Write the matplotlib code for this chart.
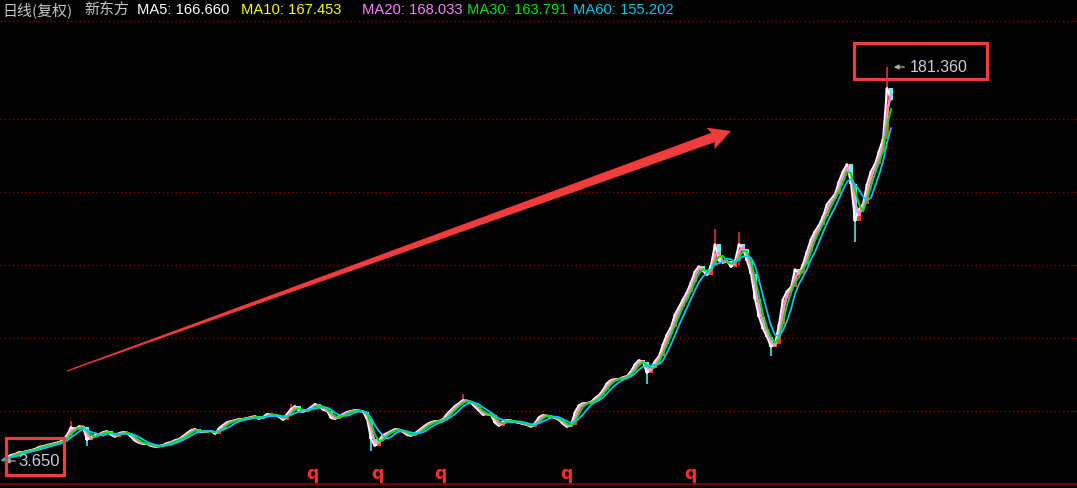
import numpy as np
import pandas as pd
import matplotlib
matplotlib.use("Agg")
import matplotlib.pyplot as plt
from matplotlib.patches import Rectangle, Polygon

# ---------------- data ----------------
closes = [
    4.1, 5.5, 6.4, 6.8, 7.7, 7.7, 8.2, 8.6, 9.1, 10.0,
    10.4, 10.9, 11.3, 11.8, 12.2, 13.1, 15.4, 19.0, 17.6, 19.4,
    19.0, 13.1, 14.5, 15.4, 15.8, 16.7, 17.2, 15.4, 14.5, 16.3,
    16.7, 16.3, 14.5, 12.7, 11.8, 11.3, 11.3, 10.4, 10.0, 10.4,
    10.9, 11.8, 12.2, 13.1, 13.6, 14.9, 16.3, 17.6, 18.1, 16.7,
    16.7, 17.2, 17.2, 15.8, 18.5, 19.9, 21.2, 21.7, 22.1, 22.6,
    22.6, 23.0, 23.5, 23.9, 22.6, 23.5, 24.9, 24.4, 24.4, 23.5,
    22.1, 24.9, 27.1, 28.5, 26.2, 25.8, 26.7, 28.0, 29.4, 28.5,
    26.7, 26.2, 23.0, 22.6, 23.9, 24.9, 25.8, 26.2, 26.7, 26.2,
    25.8, 22.6, 13.6, 10.4, 13.1, 15.4, 16.3, 17.2, 18.1, 17.6,
    16.7, 15.4, 14.9, 16.3, 17.6, 19.0, 20.3, 21.2, 21.7, 21.7,
    22.6, 24.9, 26.7, 28.5, 29.8, 31.2, 30.7, 29.8, 28.0, 26.2,
    24.4, 24.9, 24.4, 20.8, 19.4, 21.7, 22.1, 21.7, 21.2, 20.8,
    20.3, 19.9, 19.0, 20.8, 23.5, 24.4, 23.9, 23.5, 23.0, 22.1,
    20.3, 19.0, 19.9, 25.8, 28.9, 29.8, 29.8, 30.3, 32.1, 33.4,
    35.7, 38.8, 40.2, 40.6, 40.6, 41.5, 42.0, 44.2, 47.4, 49.2,
    48.3, 43.3, 45.6, 48.7, 51.0, 56.4, 60.9, 64.1, 69.9, 73.1,
    76.7, 79.9, 84.4, 89.3, 91.6, 89.3, 87.5, 92.0, 101.5, 93.9,
    93.0, 93.9, 91.1, 93.9, 101.5, 99.3, 93.9, 88.0, 76.7, 68.6,
    63.2, 59.6, 55.1, 56.4, 65.4, 76.7, 80.3, 82.1, 90.2, 88.0,
    92.5, 98.4, 103.8, 107.4, 110.1, 114.1, 119.6, 121.8, 124.1, 129.9,
    134.4, 137.6, 128.6, 111.9, 117.3, 119.6, 128.6, 134.4, 137.6, 143.5,
    148.9, 172.0, 166.7,
]
first_open = 3.65
low_value = 3.65
high_value = 181.36
high_label = "181.360"
low_label = "3.650"

# notable wicks: bar index -> (low, high)
wick_bars = [17, 21, 72, 92, 115, 161, 178, 184, 192, 213, 221]
wick_lows = [15.0, 10.4, 24.0, 8.2, 29.0, 38.5, 92.0, 92.0, 51.0, 102.4, 150.0]
wick_highs = [21.7, 19.0, 29.4, 22.6, 33.9, 48.3, 108.3, 107.0, 56.4, 120.0, 181.36]

ma_names = ["MA5", "MA10", "MA20", "MA30", "MA60"]
ma_values = ["166.660", "167.453", "168.033", "163.791", "155.202"]
ma_windows = [1, 2, 2, 3, 5]          # windows in (compressed) bar units
ma_colors = ["#FFFFFF", "#FFFF00", "#FF80FF", "#00E600", "#00C8F0"]

event_bars = [77.25, 93.5, 109.25, 140.75, 171.75]
event_label = "q"
title_left = "日线(复权)"
stock_name = "新东方"

# ---------------- figure ----------------
W, H = 1077, 489
fig = plt.figure(figsize=(W / 100, H / 100), dpi=100)
fig.patch.set_facecolor("black")

px_per_unit = 2.217
ymin = low_value - (H - 462) / px_per_unit
ymax = low_value + 462 / px_per_unit
ax = fig.add_axes([0, 0, 1, 1])
ax.set_facecolor("black")
ax.set_xlim(-0.75, -0.75 + W / 4)
ax.set_ylim(ymin, ymax)
ax.axis("off")

# grid lines (dotted dark red)
grid_px = [412, 339, 266, 193, 120, 22]
for gp in grid_px:
    ax.axhline(low_value + (462 - gp) / px_per_unit, color="#8C0000",
               lw=1.0, ls=(0, (1, 2)), zorder=1)
ax.axhline(low_value + (462 - 485) / px_per_unit, color="#8C0000", lw=1.2, zorder=1)

c = np.array(closes)
o = np.concatenate([[first_open], c[:-1]])
x = np.arange(len(c))

# candles (drawn beneath the average lines)
up = c >= o
ax.bar(x[up], (c - o)[up], bottom=o[up], width=1.0, color="#FF3232", lw=0, zorder=2)
ax.bar(x[~up], (c - o)[~up], bottom=o[~up], width=1.0, color="#54FCFC", lw=0, zorder=2)
for b, lo, hi in zip(wick_bars, wick_lows, wick_highs):
    col = "#FF3232" if c[b] >= o[b] else "#54FCFC"
    ax.vlines(b, lo, hi, color=col, lw=1.1, zorder=2)
ax.vlines(0, low_value, c[0], color="#FF3232", lw=1.0, zorder=2)

# moving averages
s = pd.Series(closes)
for k, (w, col) in enumerate(zip(ma_windows, ma_colors)):
    ax.plot(x, s.rolling(w, min_periods=1).mean(), color=col,
            lw=1.4 if k < 4 else 1.3, zorder=3 + k)

# ---------------- overlay in pixel coordinates ----------------
ov = fig.add_axes([0, 0, 1, 1])
ov.set_xlim(0, W)
ov.set_ylim(H, 0)
ov.axis("off")
ov.patch.set_alpha(0)

latin = ["Liberation Sans", "Noto Sans CJK SC", "DejaVu Sans"]
cjk = ["Noto Sans CJK SC", "DejaVu Sans"]

# header
ov.text(2, 10, title_left, color="#C8C8C8", fontsize=10.8, family=cjk, va="center", ha="left")
ov.text(84, 10, stock_name, color="#C8C8C8", fontsize=10.8, family=cjk, va="center", ha="left")
hx = [137, 241, 362, 467, 573]
for xx, n, v, col in zip(hx, ma_names, ma_values, ma_colors):
    ov.text(xx, 10, f"{n}: {v}", color=col, fontsize=10.6, family=latin, va="center", ha="left")

# extreme value labels with small arrows
ov.annotate("", xy=(891, 68), xytext=(907, 68),
            arrowprops=dict(arrowstyle="-|>", color="#B0B0B0", lw=0.9, mutation_scale=7))
ov.text(910, 68, high_label, color="#C8D0DC", fontsize=11.5, family=latin, va="center", ha="left")
ov.annotate("", xy=(2, 462), xytext=(18, 462),
            arrowprops=dict(arrowstyle="-|>", color="#B0B0B0", lw=0.9, mutation_scale=7))
ov.text(18, 462, low_label, color="#C8D0DC", fontsize=12, family=latin, va="center", ha="left")

# red boxes
box_col = "#F23C3C"
ov.add_patch(Rectangle((6, 439), 58, 37, fill=False, ec=box_col, lw=2.3, zorder=5))
ov.add_patch(Rectangle((854, 44), 133, 36, fill=False, ec=box_col, lw=2.3, zorder=5))

# big tapered arrow
p0 = np.array([67.0, 372.0])
tip = np.array([731.0, 132.0])
d = tip - p0
L = np.hypot(*d)
u = d / L
nrm = np.array([u[1], -u[0]])
head_len, head_hw, shaft_hw_end, shaft_hw_start = 19.0, 11.5, 5.0, 0.6
base = tip - u * head_len
pts = [p0 + nrm * shaft_hw_start,
       base + nrm * shaft_hw_end,
       base - u * 3 + nrm * head_hw,
       tip,
       base - u * 3 - nrm * head_hw,
       base - nrm * shaft_hw_end,
       p0 - nrm * shaft_hw_start]
ov.add_patch(Polygon(pts, closed=True, fc="#F03C3C", ec="none", zorder=5))

# event markers
for b in event_bars:
    xp = 3 + 4 * b
    ov.text(xp, 474, event_label, color="#FF2A2A", fontsize=12.5, fontweight="bold",
            family=["DejaVu Sans"], ha="center", va="center")

fig.savefig("out.png", dpi=100, facecolor="black")
